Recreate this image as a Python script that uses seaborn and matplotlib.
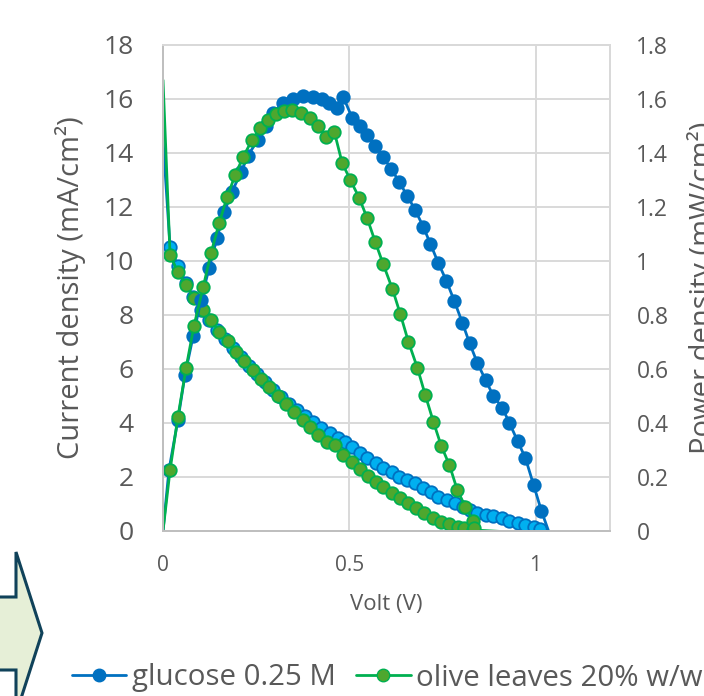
import matplotlib
matplotlib.use("Agg")
import matplotlib.pyplot as plt
import pandas as pd
import seaborn as sns
from matplotlib.lines import Line2D
from matplotlib.patches import Polygon

# data
# glucose 0.25 M - current density (mA/cm2), left axis
volt_glu_cur = [0, 0.019, 0.040, 0.062, 0.081, 0.102, 0.124, 0.145, 0.167, 0.188,
                0.210, 0.231, 0.253, 0.274, 0.296, 0.317, 0.339, 0.360, 0.382, 0.403,
                0.425, 0.449, 0.470, 0.489, 0.508, 0.530, 0.548, 0.573, 0.591, 0.616,
                0.634, 0.656, 0.677, 0.699, 0.720, 0.739, 0.763, 0.785, 0.806, 0.825,
                0.844, 0.868, 0.887, 0.909, 0.930, 0.952, 0.973, 0.995, 1.013]
cur_glu = [14.5, 10.52, 9.81, 9.19, 8.67, 8.19, 7.81, 7.44, 7.11, 6.78,
           6.44, 6.11, 5.81, 5.52, 5.22, 4.96, 4.70, 4.48, 4.26, 4.04,
           3.81, 3.63, 3.44, 3.30, 3.11, 2.89, 2.70, 2.52, 2.33, 2.19,
           2.00, 1.89, 1.78, 1.59, 1.44, 1.26, 1.15, 1.04, 0.89, 0.78,
           0.67, 0.59, 0.56, 0.48, 0.37, 0.30, 0.22, 0.15, 0.07]

# glucose 0.25 M - power density (mW/cm2), right axis
volt_glu_pow = [0, 0.016, 0.040, 0.059, 0.081, 0.102, 0.124, 0.145, 0.164, 0.185,
                0.210, 0.228, 0.255, 0.277, 0.296, 0.323, 0.349, 0.376, 0.403, 0.427,
                0.446, 0.468, 0.484, 0.508, 0.530, 0.548, 0.570, 0.591, 0.613, 0.634,
                0.656, 0.677, 0.699, 0.718, 0.739, 0.761, 0.782, 0.804, 0.823, 0.844,
                0.866, 0.887, 0.911, 0.930, 0.952, 0.973, 0.995, 1.016, 1.035]
pow_glu = [0, 0.226, 0.411, 0.578, 0.722, 0.856, 0.974, 1.085, 1.180, 1.256,
           1.330, 1.390, 1.450, 1.500, 1.550, 1.585, 1.600, 1.610, 1.607, 1.600,
           1.585, 1.567, 1.607, 1.530, 1.500, 1.467, 1.426, 1.385, 1.341, 1.293,
           1.241, 1.189, 1.126, 1.063, 0.993, 0.926, 0.852, 0.770, 0.696, 0.622,
           0.559, 0.500, 0.456, 0.400, 0.333, 0.270, 0.170, 0.074, 0]

# olive leaves 20% w/w - current density (mA/cm2), left axis
volt_oli_cur = [0, 0.019, 0.040, 0.062, 0.083, 0.108, 0.129, 0.151, 0.175, 0.196,
                0.218, 0.242, 0.263, 0.285, 0.309, 0.331, 0.352, 0.376, 0.395, 0.417,
                0.441, 0.462, 0.484, 0.508, 0.530, 0.551, 0.573, 0.591, 0.616, 0.637,
                0.659, 0.680, 0.702, 0.726, 0.747, 0.769, 0.793, 0.809, 0.831, 0.95]
cur_oli = [16.7, 10.22, 9.59, 9.11, 8.63, 8.19, 7.81, 7.37, 7.04, 6.63,
           6.30, 5.96, 5.63, 5.33, 5.00, 4.70, 4.41, 4.11, 3.85, 3.56,
           3.30, 3.19, 2.81, 2.56, 2.30, 2.04, 1.81, 1.63, 1.41, 1.22,
           1.04, 0.85, 0.67, 0.48, 0.33, 0.26, 0.15, 0.11, 0.04, -0.05]

# olive leaves 20% w/w - power density (mW/cm2), right axis
volt_oli_pow = [0, 0.019, 0.040, 0.062, 0.083, 0.108, 0.129, 0.151, 0.172, 0.194,
                0.215, 0.239, 0.261, 0.282, 0.304, 0.325, 0.347, 0.371, 0.395, 0.417,
                0.438, 0.460, 0.481, 0.503, 0.527, 0.548, 0.570, 0.591, 0.616, 0.637,
                0.659, 0.683, 0.704, 0.726, 0.747, 0.769, 0.790, 0.812, 0.833, 0.836]
pow_oli = [0, 0.226, 0.422, 0.604, 0.759, 0.904, 1.030, 1.141, 1.237, 1.319,
           1.385, 1.448, 1.493, 1.522, 1.544, 1.556, 1.559, 1.548, 1.530, 1.500,
           1.459, 1.478, 1.363, 1.300, 1.233, 1.159, 1.070, 0.989, 0.896, 0.804,
           0.700, 0.604, 0.504, 0.404, 0.315, 0.244, 0.152, 0.089, 0.037, 0.01]

labels = ["glucose 0.25 M", "olive leaves 20% w/w"]

txt = "#595959"
grid_c = "#D9D9D9"
blue = "#0070C0"
light_blue = "#00B0F0"
green = "#00B050"
olive = "#4EA72E"

sns.set_style("white")
plt.rcParams["font.family"] = ["Open Sans", "DejaVu Sans"]

fig = plt.figure(figsize=(7.04, 6.96), dpi=100)
ax = fig.add_axes([163 / 704, 1 - 531 / 696, 447 / 704, 486 / 696])
ax2 = ax.twinx()

ms = 9
lw = 2.0

df_gc = pd.DataFrame({"V": volt_glu_cur, "I": cur_glu})
df_oc = pd.DataFrame({"V": volt_oli_cur, "I": cur_oli})
df_gp = pd.DataFrame({"V": volt_glu_pow, "P": pow_glu})
df_op = pd.DataFrame({"V": volt_oli_pow, "P": pow_oli})

sns.lineplot(data=df_gc, x="V", y="I", ax=ax, sort=False, color=blue, lw=lw,
             marker="o", ms=ms, mfc=light_blue, mec=blue, mew=1.3,
             markevery=list(range(1, len(df_gc))))
sns.lineplot(data=df_oc, x="V", y="I", ax=ax, sort=False, color=green, lw=lw,
             marker="o", ms=ms, mfc=olive, mec=green, mew=1.3,
             markevery=list(range(1, len(df_oc) - 1)))
sns.lineplot(data=df_gp, x="V", y="P", ax=ax2, sort=False, color=blue, lw=lw,
             marker="o", ms=ms, mfc=blue, mec=blue, mew=1.3,
             markevery=list(range(1, len(df_gp) - 1)))
sns.lineplot(data=df_op, x="V", y="P", ax=ax2, sort=False, color=green, lw=lw,
             marker="o", ms=ms, mfc=olive, mec=green, mew=1.3,
             markevery=list(range(1, len(df_op))))

ax.set_xlim(0, 1.2)
ax.set_ylim(0, 18)
ax2.set_ylim(0, 1.8)
ax.set_xticks([0, 0.5, 1])
ax.set_xticklabels(["0", "0.5", "1"])
ax.set_yticks(range(0, 19, 2))
ax2.set_yticks([i / 10 for i in range(0, 19, 2)])
ax2.set_yticklabels(["0", "0.2", "0.4", "0.6", "0.8", "1", "1.2", "1.4", "1.6", "1.8"])

ax.grid(True, color=grid_c, lw=1.4)
ax.set_axisbelow(True)
ax.tick_params(axis="both", length=0, colors=txt)
ax.tick_params(axis="y", labelsize=19, pad=21)
ax.tick_params(axis="x", labelsize=15, pad=17)
ax2.tick_params(axis="y", length=0, colors=txt, labelsize=16.5, pad=19)

for a in (ax, ax2):
    for s in a.spines.values():
        s.set_color(grid_c)
        s.set_linewidth(1.4)
    a.spines["left"].set_color("#BFBFBF")
    a.spines["bottom"].set_color("#BFBFBF")

ax.set_xlabel("Volt (V)", fontsize=16, color=txt)
ax.xaxis.set_label_coords(0.5, -0.13)
ax.set_ylabel("Current density (mA/cm²)", fontsize=21, color=txt)
ax.yaxis.set_label_coords(-0.172, 0.5)
# the reference image is cropped through this label
ax2.set_ylabel("Power density (mW/cm²)", fontsize=21, color=txt)
ax2.yaxis.set_label_coords(1.172, 0.5)

handles = [Line2D([], [], color=blue, lw=lw, marker="o", ms=ms, mfc=blue, mec=blue),
           Line2D([], [], color=green, lw=lw, marker="o", ms=ms, mfc=olive, mec=green)]
fig.legend(handles, labels, loc="center left", bbox_to_anchor=(72 / 704, 1 - 678 / 696),
           ncol=2, frameon=False, fontsize=21.2, handlelength=1.85, handletextpad=0.18,
           columnspacing=0.7, borderpad=0, borderaxespad=0, labelcolor=txt)

# block arrow in the lower left corner
pts = [(-5, 597), (16, 597), (16, 552), (42, 633), (16, 714), (16, 670), (-5, 670)]
arrow = Polygon([(x / 704, 1 - y / 696) for x, y in pts], closed=True,
                transform=fig.transFigure, facecolor="#E6EFD7", edgecolor="#10425A",
                lw=2.2, clip_on=False)
fig.patches.append(arrow)

fig.savefig("out.png", dpi=100)
